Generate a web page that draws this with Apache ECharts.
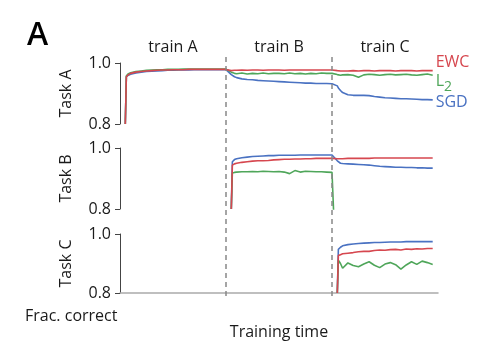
<!DOCTYPE html>
<html>
<head>
<meta charset="utf-8">
<script src="https://cdn.jsdelivr.net/npm/echarts@6/dist/echarts.min.js"></script>
<style>
  html, body { margin: 0; padding: 0; background: #fff; }
  #chart { width: 488px; height: 354px; }
</style>
</head>
<body>
<div id="chart"></div>
<script>
// training steps (x), three phases of 100 steps each
const steps = [
  5, 6, 8, 10, 15, 20, 25, 30, 35, 40, 45, 50, 55, 60, 65, 70, 75, 80, 85, 90, 95, 100,
  105, 106, 108, 110, 115, 120, 125, 130, 135, 140, 145, 150, 155, 160, 165, 170, 175, 180, 185, 190, 195, 200,
  205, 206, 208, 210, 215, 220, 225, 230, 235, 240, 245, 250, 255, 260, 265, 270, 275, 280, 285, 290, 295
];
const phases = ['train A', 'train B', 'train C'];
const phaseEnds = [100, 200];
const tasks = ['Task A', 'Task B', 'Task C'];
const yTicks = [0.8, 1.0];

// Task A
const taskA_EWC = [
  0.80, 0.955, 0.962, 0.966, 0.970, 0.972, 0.974, 0.975, 0.976, 0.977, 0.977, 0.978, 0.978, 0.978, 0.979, 0.979, 0.979, 0.979, 0.979, 0.979, 0.979, 0.979,
  0.975, 0.975, 0.976, 0.976, 0.977, 0.976, 0.977, 0.977, 0.976, 0.977, 0.977, 0.977, 0.976, 0.977, 0.977, 0.977, 0.977, 0.977, 0.977, 0.977, 0.977, 0.977,
  0.975, 0.974, 0.974, 0.974, 0.974, 0.975, 0.974, 0.975, 0.975, 0.974, 0.975, 0.975, 0.975, 0.974, 0.975, 0.975, 0.975, 0.974, 0.975, 0.975, 0.975
];
const taskA_L2 = [
  0.80, 0.958, 0.965, 0.968, 0.972, 0.974, 0.976, 0.977, 0.978, 0.978, 0.979, 0.979, 0.979, 0.980, 0.980, 0.980, 0.980, 0.980, 0.980, 0.980, 0.980, 0.980,
  0.970, 0.968, 0.966, 0.965, 0.967, 0.964, 0.966, 0.965, 0.967, 0.965, 0.966, 0.966, 0.965, 0.967, 0.965, 0.966, 0.964, 0.966, 0.965, 0.967, 0.966, 0.966,
  0.962, 0.961, 0.960, 0.961, 0.962, 0.960, 0.953, 0.961, 0.963, 0.962, 0.960, 0.962, 0.963, 0.961, 0.962, 0.963, 0.961, 0.960, 0.962, 0.964, 0.960
];
const taskA_SGD = [
  0.80, 0.955, 0.960, 0.963, 0.967, 0.970, 0.972, 0.973, 0.974, 0.975, 0.976, 0.976, 0.977, 0.977, 0.977, 0.978, 0.978, 0.978, 0.978, 0.978, 0.978, 0.978,
  0.962, 0.958, 0.955, 0.952, 0.948, 0.946, 0.945, 0.943, 0.942, 0.941, 0.940, 0.939, 0.938, 0.937, 0.936, 0.935, 0.934, 0.934, 0.933, 0.933, 0.933, 0.932,
  0.925, 0.918, 0.910, 0.903, 0.896, 0.894, 0.894, 0.894, 0.893, 0.890, 0.888, 0.886, 0.885, 0.884, 0.883, 0.883, 0.882, 0.881, 0.880, 0.880, 0.879
];

// Task B
const taskB_EWC = [
  null, null, null, null, null, null, null, null, null, null, null, null, null, null, null, null, null, null, null, null, null, null,
  0.80, 0.944, 0.948, 0.950, 0.953, 0.955, 0.957, 0.958, 0.958, 0.959, 0.961, 0.962, 0.963, 0.963, 0.964, 0.964, 0.965, 0.965, 0.966, 0.966, 0.966, 0.966,
  0.965, 0.965, 0.965, 0.965, 0.966, 0.966, 0.966, 0.966, 0.966, 0.967, 0.967, 0.967, 0.967, 0.967, 0.967, 0.967, 0.967, 0.967, 0.967, 0.967, 0.967
];
const taskB_L2 = [
  null, null, null, null, null, null, null, null, null, null, null, null, null, null, null, null, null, null, null, null, null, null,
  0.80, 0.918, 0.920, 0.921, 0.922, 0.922, 0.923, 0.922, 0.924, 0.923, 0.922, 0.923, 0.921, 0.916, 0.926, 0.921, 0.924, 0.923, 0.922, 0.922, 0.921, 0.920,
  0.50, null, null, null, null, null, null, null, null, null, null, null, null, null, null, null, null, null, null, null, null
];
const taskB_SGD = [
  null, null, null, null, null, null, null, null, null, null, null, null, null, null, null, null, null, null, null, null, null, null,
  0.80, 0.955, 0.962, 0.965, 0.968, 0.970, 0.972, 0.973, 0.974, 0.975, 0.975, 0.976, 0.976, 0.976, 0.976, 0.977, 0.977, 0.977, 0.977, 0.977, 0.977, 0.977,
  0.958, 0.952, 0.950, 0.949, 0.948, 0.947, 0.946, 0.945, 0.944, 0.942, 0.940, 0.939, 0.938, 0.937, 0.937, 0.936, 0.936, 0.935, 0.935, 0.934, 0.934
];

// Task C
const taskC_EWC = [
  null, null, null, null, null, null, null, null, null, null, null, null, null, null, null, null, null, null, null, null, null, null,
  null, null, null, null, null, null, null, null, null, null, null, null, null, null, null, null, null, null, null, null, null, null,
  0.80, 0.927, 0.930, 0.933, 0.935, 0.937, 0.940, 0.941, 0.941, 0.944, 0.946, 0.945, 0.947, 0.948, 0.946, 0.949, 0.948, 0.950, 0.949, 0.951, 0.951
];
const taskC_L2 = [
  null, null, null, null, null, null, null, null, null, null, null, null, null, null, null, null, null, null, null, null, null, null,
  null, null, null, null, null, null, null, null, null, null, null, null, null, null, null, null, null, null, null, null, null, null,
  0.80, 0.911, 0.900, 0.884, 0.902, 0.893, 0.889, 0.898, 0.906, 0.894, 0.886, 0.898, 0.903, 0.896, 0.881, 0.895, 0.906, 0.897, 0.908, 0.903, 0.897
];
const taskC_SGD = [
  null, null, null, null, null, null, null, null, null, null, null, null, null, null, null, null, null, null, null, null, null, null,
  null, null, null, null, null, null, null, null, null, null, null, null, null, null, null, null, null, null, null, null, null, null,
  0.80, 0.948, 0.955, 0.960, 0.964, 0.966, 0.968, 0.969, 0.970, 0.971, 0.971, 0.972, 0.973, 0.973, 0.973, 0.974, 0.974, 0.974, 0.974, 0.974, 0.974
];

const colors = { EWC: '#d6474f', L2: '#4fa65a', SGD: '#4a72c2' };
const FONT = 'Open Sans';
const TEXT = '#1a1a1a';

const chart = echarts.init(document.getElementById('chart'));

const toPairs = vals => steps.map((s, i) => [s, vals[i]]);

const grids = [
  { left: 120, right: 50, top: 63, height: 61 },
  { left: 120, right: 50, top: 148, height: 61 },
  { left: 120, right: 50, top: 234, height: 59 },
  { left: 120, right: 50, top: 55, bottom: 58 } // overlay for phase dividers
];

const yAxes = tasks.map((name, i) => ({
  type: 'value',
  gridIndex: i,
  min: yTicks[0],
  max: yTicks[1],
  interval: 0.2,
  name: name,
  nameLocation: 'middle',
  nameGap: 46,
  nameTextStyle: { color: TEXT, fontSize: 16, fontFamily: FONT },
  axisLine: { show: true, lineStyle: { color: '#444', width: 1 } },
  axisTick: { show: true, length: 5, lineStyle: { color: '#444' } },
  axisLabel: { color: TEXT, fontSize: 16, fontFamily: FONT, margin: 9, formatter: v => v.toFixed(1) },
  splitLine: { show: false }
}));
yAxes.push({ type: 'value', gridIndex: 3, min: 0, max: 1, show: false });

const xBase = { type: 'value', min: 0, max: 300, splitLine: { show: false } };
const xAxes = [
  Object.assign({}, xBase, { gridIndex: 0, show: false }),
  Object.assign({}, xBase, { gridIndex: 1, show: false }),
  Object.assign({}, xBase, {
    gridIndex: 2,
    name: 'Training time',
    nameLocation: 'middle',
    nameGap: 31,
    nameTextStyle: { color: TEXT, fontSize: 16, fontFamily: FONT },
    axisLine: { show: true, lineStyle: { color: '#aaa', width: 1.5 } },
    axisTick: { show: false },
    axisLabel: { show: false }
  }),
  {
    type: 'category',
    gridIndex: 0,
    position: 'top',
    data: phases,
    boundaryGap: true,
    axisLine: { show: false },
    axisTick: { show: false },
    axisLabel: { color: TEXT, fontSize: 16, fontFamily: FONT, margin: 8 }
  },
  Object.assign({}, xBase, { gridIndex: 3, show: false })
];

const methodRows = [
  ['SGD', [taskA_SGD, taskB_SGD, taskC_SGD]],
  ['L2', [taskA_L2, taskB_L2, taskC_L2]],
  ['EWC', [taskA_EWC, taskB_EWC, taskC_EWC]]
];
const endOffsets = { EWC: [0, -8], L2: [0, 6], SGD: [0, 3] };

const series = [];
methodRows.forEach(([method, perTask]) => {
  perTask.forEach((vals, t) => {
    const s = {
      name: method,
      type: 'line',
      xAxisIndex: t,
      yAxisIndex: t,
      data: toPairs(vals),
      showSymbol: false,
      symbol: 'none',
      clip: true,
      connectNulls: false,
      lineStyle: { color: colors[method], width: 1.6 },
      itemStyle: { color: colors[method] },
      silent: true,
      animation: false
    };
    if (t === 0) {
      s.endLabel = {
        show: true,
        distance: 3,
        offset: endOffsets[method],
        color: colors[method],
        fontSize: 16,
        fontFamily: FONT,
        formatter: method === 'L2' ? 'L{sub|2}' : method,
        rich: { sub: { fontSize: 14, color: colors[method], fontFamily: FONT, padding: [12, 0, 0, 0] } }
      };
    }
    series.push(s);
  });
});

series.push({
  type: 'line',
  xAxisIndex: 4,
  yAxisIndex: 3,
  data: [],
  silent: true,
  animation: false,
  markLine: {
    silent: true,
    symbol: 'none',
    label: { show: false },
    lineStyle: { color: '#888', type: [5, 4], width: 1.5 },
    data: phaseEnds.map(x => ({ xAxis: x }))
  }
});

chart.setOption({
  animation: false,
  textStyle: { fontFamily: FONT },
  grid: grids,
  xAxis: xAxes,
  yAxis: yAxes,
  series: series,
  graphic: [
    { type: 'text', left: 27, top: 20, style: { text: 'A', fontSize: 32, fontWeight: 600, fontFamily: FONT, fill: '#000' } },
    { type: 'text', left: 25, top: 308, style: { text: 'Frac. correct', fontSize: 16, fontFamily: FONT, fill: TEXT } }
  ]
});
</script>
</body>
</html>
